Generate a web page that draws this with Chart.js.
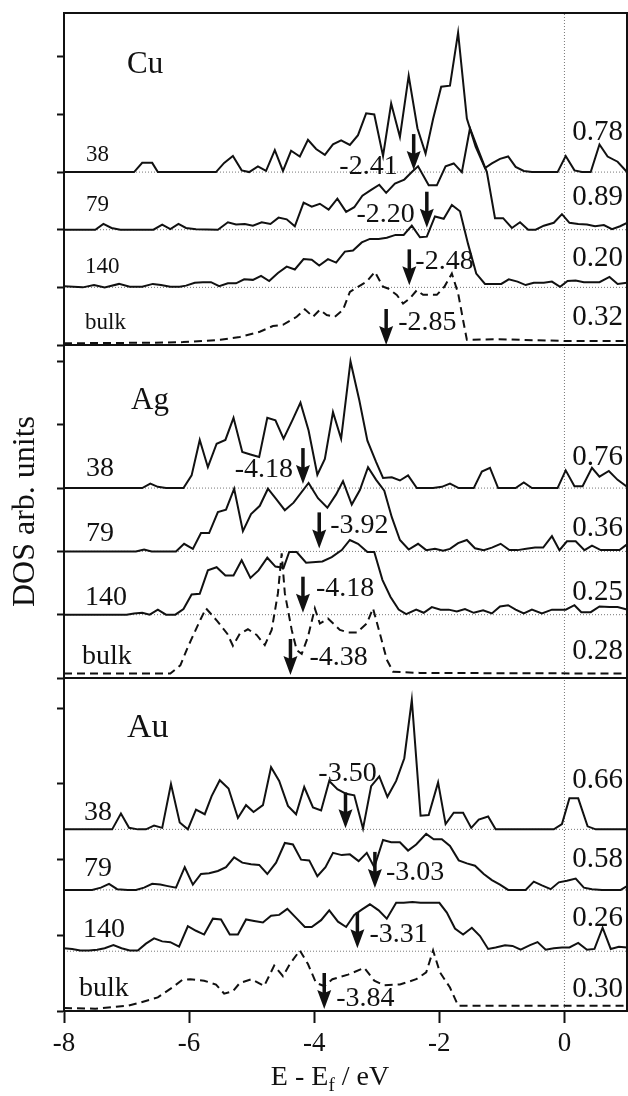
<!DOCTYPE html>
<html>
<head>
<meta charset="utf-8">
<script src="https://cdn.jsdelivr.net/npm/chart.js@4.4.1/dist/chart.umd.min.js"></script>
<style>
  html, body { margin: 0; padding: 0; background: #fff; }
  #wrap { position: relative; width: 628px; height: 1096px; }
  #wrap canvas { position: absolute; left: 0; }
</style>
</head>
<body>
<div id="wrap">
  <canvas id="cu" width="628" height="347" style="top:0px"></canvas>
  <canvas id="ag" width="628" height="337" style="top:343px"></canvas>
  <canvas id="au" width="628" height="420" style="top:676px"></canvas>
</div>
<script>
const FONT = '"Liberation Serif", "Times New Roman", serif';
const INK = "#111";

const sizes = ["38", "79", "140", "bulk"];
const xTicks = [-8, -6, -4, -2, 0];

// ---- Cu : [E, DOS] pairs, DOS measured from each curve's own baseline
const cu38 = [[-8,0],[-6.88,0],[-6.75,0.16],[-6.59,0.16],[-6.5,0],[-5.57,0],[-5.44,0.16],[-5.30,0.28],[-5.16,0.03],[-5.04,0],[-4.90,0.10],[-4.77,0.02],[-4.63,0.38],[-4.50,0.02],[-4.37,0.37],[-4.23,0.27],[-4.10,0.56],[-3.97,0.40],[-3.83,0.30],[-3.70,0.48],[-3.57,0.55],[-3.43,0.47],[-3.30,0.64],[-3.17,1.02],[-3.04,1.00],[-2.90,0.28],[-2.77,1.19],[-2.63,0.61],[-2.49,1.67],[-2.35,0.76],[-2.22,0.32],[-2.10,0.92],[-1.97,1.48],[-1.83,1.50],[-1.70,2.42],[-1.56,0.93],[-1.42,0.44],[-1.27,0.07],[-1.16,0.15],[-1.03,0.23],[-0.90,0.27],[-0.78,0.09],[-0.65,0.02],[-0.52,0],[-0.11,0],[0.02,0.28],[0.16,0.03],[0.28,0],[0.42,0],[0.56,0.48],[0.69,0.27],[0.85,0.18],[1.0,0]];
const cu79 = [[-8,0],[-7.5,0],[-7.37,0.10],[-7.24,0.03],[-7.10,0],[-6.57,0],[-6.43,0.09],[-6.30,0.01],[-6.17,0.10],[-6.05,0.03],[-5.89,0.01],[-5.54,0],[-5.38,0.13],[-5.25,0.09],[-5.11,0.10],[-4.98,0.07],[-4.84,0.13],[-4.70,0.10],[-4.57,0.21],[-4.44,0.18],[-4.31,0.06],[-4.17,0.47],[-4.04,0.40],[-3.91,0.45],[-3.77,0.35],[-3.63,0.54],[-3.49,0.31],[-3.36,0.39],[-3.23,0.59],[-3.09,0.69],[-2.96,0.78],[-2.85,0.64],[-2.71,0.80],[-2.56,0.87],[-2.44,1.00],[-2.34,1.10],[-2.17,0.77],[-2.04,0.77],[-1.90,1.10],[-1.77,1.15],[-1.64,1.00],[-1.51,1.76],[-1.38,1.39],[-1.24,1.00],[-1.11,0.20],[-0.98,0.20],[-0.84,0.03],[-0.71,0.13],[-0.58,0],[-0.46,0],[-0.33,0.07],[-0.17,0.12],[-0.04,0.27],[0.08,0.12],[0.22,0.10],[0.36,0.09],[0.49,0.06],[0.63,0.08],[0.76,0.01],[0.89,0.06],[1.0,0.12]];
const cu140 = [[-8,0.02],[-7.7,0],[-7.52,0.04],[-7.35,0],[-7.12,0.06],[-6.95,0.01],[-6.75,0.01],[-6.58,0.06],[-6.45,0.04],[-6.30,0.01],[-6.15,0.01],[-6.05,0.03],[-5.91,0.08],[-5.78,0.09],[-5.65,0.09],[-5.52,0.02],[-5.38,0.07],[-5.25,0.07],[-5.12,0.14],[-4.98,0.13],[-4.85,0.20],[-4.72,0.11],[-4.58,0.25],[-4.44,0.36],[-4.31,0.31],[-4.17,0.49],[-4.04,0.48],[-3.92,0.38],[-3.78,0.49],[-3.65,0.43],[-3.51,0.62],[-3.38,0.64],[-3.24,0.78],[-3.11,0.84],[-2.97,0.84],[-2.84,0.86],[-2.70,0.91],[-2.57,0.91],[-2.44,1.07],[-2.31,0.87],[-2.20,0.88],[-2.07,1.23],[-1.93,1.19],[-1.80,1.43],[-1.67,1.32],[-1.54,0.75],[-1.41,0.24],[-1.27,0.06],[-1.14,0.06],[-1.01,0.06],[-0.89,0.14],[-0.75,0.10],[-0.62,0.04],[-0.49,0.08],[-0.33,0.08],[-0.20,0.10],[-0.07,0.01],[0.05,0.11],[0.18,0.12],[0.31,0.09],[0.44,0.09],[0.56,0.09],[0.72,0.18],[0.85,0.06],[1.0,0.08]];
const cuBulk = [[-8,0.03],[-6.6,0.04],[-6.1,0.05],[-5.5,0.09],[-5.19,0.14],[-4.87,0.23],[-4.66,0.33],[-4.50,0.35],[-4.28,0.49],[-4.15,0.62],[-4.02,0.49],[-3.91,0.61],[-3.80,0.52],[-3.67,0.49],[-3.54,0.61],[-3.43,0.92],[-3.30,1.01],[-3.16,1.10],[-3.03,1.27],[-2.90,1.01],[-2.82,0.98],[-2.68,0.87],[-2.58,0.72],[-2.47,0.81],[-2.36,0.95],[-2.26,0.87],[-2.04,0.87],[-1.92,1.01],[-1.80,1.24],[-1.70,0.90],[-1.62,0.43],[-1.56,0.09],[-1.05,0.10],[0,0.07],[1.0,0.07]];
const cuArrowE = [-2.41, -2.20, -2.48, -2.85];
const cuRight = [0.78, 0.89, 0.20, 0.32];

// ---- Ag
const ag38 = [[-8,0],[-6.75,0],[-6.62,0.07],[-6.5,0.02],[-6.37,0],[-6.09,0],[-5.96,0.20],[-5.83,0.76],[-5.70,0.33],[-5.56,0.70],[-5.42,0.76],[-5.29,1.11],[-5.15,0.57],[-5.02,0.53],[-4.88,0.49],[-4.75,1.11],[-4.62,1.07],[-4.49,0.78],[-4.35,1.07],[-4.22,1.35],[-4.09,0.91],[-3.95,0.21],[-3.83,0.46],[-3.70,1.20],[-3.57,0.78],[-3.42,2.00],[-3.28,1.39],[-3.15,0.75],[-3.01,0.41],[-2.90,0.16],[-2.76,0.17],[-2.63,0.12],[-2.50,0.20],[-2.36,0],[-2.10,0],[-1.96,0.02],[-1.83,0.07],[-1.69,0],[-1.45,0],[-1.32,0.26],[-1.19,0.32],[-1.06,0],[-0.78,0],[-0.65,0.09],[-0.52,0],[-0.11,0],[0.02,0.28],[0.16,0.03],[0.29,0.03],[0.44,0.32],[0.56,0.18],[0.71,0.27],[0.85,0.13],[1.0,0.02]];
const ag79 = [[-8,0],[-6.85,0],[-6.72,0.03],[-6.6,0],[-6.21,0],[-6.08,0.12],[-5.94,0.04],[-5.81,0.29],[-5.68,0.29],[-5.54,0.62],[-5.41,0.66],[-5.28,0.99],[-5.14,0.32],[-5.01,0.59],[-4.87,0.72],[-4.74,0.99],[-4.61,0.83],[-4.47,0.65],[-4.33,0.77],[-4.09,1.08],[-3.94,0.84],[-3.79,0.69],[-3.65,0.90],[-3.54,1.11],[-3.40,0.74],[-3.27,0.97],[-3.14,1.33],[-3.01,1.13],[-2.88,0.96],[-2.76,0.54],[-2.63,0.18],[-2.49,0.03],[-2.34,0.12],[-2.21,0.02],[-2.07,0.04],[-1.94,0.01],[-1.83,0.04],[-1.70,0.13],[-1.56,0.18],[-1.43,0.05],[-1.29,0.02],[-1.16,0.06],[-1.02,0.12],[-0.88,0.02],[-0.75,0.02],[-0.61,0.04],[-0.47,0.06],[-0.34,0.06],[-0.20,0.24],[-0.08,0.02],[0.04,0.16],[0.18,0.16],[0.32,0.02],[0.44,0.09],[0.58,0.02],[0.75,0.02],[0.88,0.02],[1.0,0.11]];
const ag140 = [[-8,0],[-7.0,0],[-6.88,0.02],[-6.75,0.03],[-6.63,0],[-6.50,0.08],[-6.37,0],[-6.22,0],[-6.09,0.09],[-5.96,0.32],[-5.83,0.33],[-5.70,0.70],[-5.56,0.75],[-5.42,0.62],[-5.29,0.62],[-5.16,0.86],[-5.02,0.58],[-4.89,0.70],[-4.75,0.90],[-4.62,0.76],[-4.49,0.74],[-4.40,0.99],[-4.28,0.99],[-4.13,0.82],[-3.87,0.84],[-3.72,0.91],[-3.56,1.02],[-3.43,1.18],[-3.30,1.12],[-3.15,0.99],[-3.04,0.99],[-2.91,0.55],[-2.78,0.28],[-2.65,0.08],[-2.53,0.01],[-2.37,0.08],[-2.25,0.03],[-2.12,0.12],[-1.98,0.08],[-1.85,0.08],[-1.72,0.05],[-1.59,0.09],[-1.45,0.03],[-1.30,0.07],[-1.16,0.02],[-1.03,0.13],[-0.90,0.15],[-0.78,0.08],[-0.65,0.02],[-0.52,0.08],[-0.36,0.02],[-0.20,0.08],[0.02,0.08],[0.16,0.15],[0.27,0.04],[0.42,0.04],[0.56,0.13],[0.72,0.12],[0.85,0.12],[1.0,0.08]];
const agBulk = [[-8,0.07],[-6.30,0.07],[-6.14,0.20],[-6.02,0.49],[-5.82,0.92],[-5.73,1.10],[-5.55,0.90],[-5.39,0.70],[-5.30,0.51],[-5.19,0.70],[-5.06,0.77],[-4.92,0.68],[-4.79,0.52],[-4.68,0.76],[-4.58,1.34],[-4.52,1.97],[-4.47,1.34],[-4.36,0.76],[-4.28,0.44],[-4.20,0.38],[-4.10,0.65],[-3.99,1.10],[-3.91,0.86],[-3.78,0.94],[-3.59,0.76],[-3.46,0.72],[-3.32,0.72],[-3.16,0.86],[-3.06,1.10],[-2.95,0.70],[-2.84,0.29],[-2.74,0.10],[-2.31,0.08],[1.0,0.07]];
const agArrowE = [-4.18, -3.92, -4.18, -4.38];
const agRight = [0.76, 0.36, 0.25, 0.28];

// ---- Au
const au38 = [[-8,0],[-7.23,0],[-7.09,0.21],[-6.96,0.02],[-6.82,0],[-6.69,0],[-6.56,0.05],[-6.43,0.02],[-6.29,0.60],[-6.15,0.09],[-6.02,0],[-5.89,0.26],[-5.75,0.20],[-5.64,0.44],[-5.51,0.65],[-5.37,0.54],[-5.22,0.15],[-5.09,0.32],[-4.97,0.23],[-4.82,0.32],[-4.69,0.82],[-4.56,0.64],[-4.42,0.31],[-4.29,0.20],[-4.16,0.56],[-4.02,0.29],[-3.89,0.25],[-3.76,0.64],[-3.63,0.53],[-3.49,0.47],[-3.36,0.45],[-3.22,0.01],[-3.09,0.57],[-2.96,0.70],[-2.83,0.43],[-2.69,0.64],[-2.56,0.94],[-2.44,1.71],[-2.30,0.18],[-2.17,0.19],[-2.02,0.62],[-1.90,0.07],[-1.77,0.22],[-1.62,0.22],[-1.49,0.02],[-1.37,0.13],[-1.22,0.17],[-1.10,0],[-0.17,0],[-0.04,0.07],[0.08,0.41],[0.22,0.41],[0.37,0.04],[0.50,0],[1.0,0]];
const au79 = [[-8,0],[-7.55,0],[-7.41,0.03],[-7.28,0.08],[-7.15,0.01],[-6.98,0],[-6.85,0],[-6.72,0.03],[-6.59,0.08],[-6.46,0.07],[-6.34,0.05],[-6.21,0.03],[-6.07,0.30],[-5.94,0.07],[-5.81,0.21],[-5.68,0.22],[-5.54,0.25],[-5.41,0.30],[-5.28,0.43],[-5.15,0.36],[-5.01,0.34],[-4.88,0.33],[-4.75,0.21],[-4.61,0.36],[-4.47,0.62],[-4.34,0.60],[-4.21,0.40],[-4.08,0.39],[-3.95,0.18],[-3.82,0.30],[-3.70,0.49],[-3.56,0.46],[-3.43,0.47],[-3.29,0.38],[-3.16,0.49],[-3.04,0.30],[-2.90,0.66],[-2.77,0.63],[-2.63,0.63],[-2.50,0.52],[-2.37,0.60],[-2.21,0.74],[-2.09,0.67],[-1.96,0.67],[-1.83,0.58],[-1.69,0.39],[-1.56,0.35],[-1.43,0.32],[-1.29,0.21],[-1.16,0.13],[-1.03,0.07],[-0.90,0],[-0.62,0],[-0.49,0.11],[-0.36,0.06],[-0.22,0.01],[-0.09,0.10],[0.04,0.12],[0.18,0.15],[0.31,0.03],[0.44,0.01],[0.60,0],[0.90,0],[1.0,0.05]];
const au140 = [[-8,0.04],[-7.87,0.03],[-7.74,0.01],[-7.60,0.01],[-7.47,0.02],[-7.35,0.04],[-7.21,0.08],[-7.08,0.04],[-6.95,0.01],[-6.82,0.01],[-6.69,0.10],[-6.56,0.17],[-6.43,0.13],[-6.30,0.12],[-6.16,0.06],[-6.02,0.33],[-5.89,0.27],[-5.76,0.22],[-5.62,0.43],[-5.49,0.42],[-5.35,0.22],[-5.22,0.22],[-5.09,0.42],[-4.96,0.40],[-4.82,0.38],[-4.69,0.47],[-4.56,0.48],[-4.43,0.56],[-4.29,0.44],[-4.15,0.32],[-4.04,0.32],[-3.89,0.41],[-3.76,0.54],[-3.62,0.39],[-3.49,0.32],[-3.36,0.48],[-3.24,0.55],[-3.11,0.62],[-2.97,0.54],[-2.84,0.43],[-2.69,0.64],[-2.57,0.64],[-2.43,0.65],[-2.30,0.64],[-2.15,0.64],[-2.00,0.64],[-1.88,0.51],[-1.75,0.30],[-1.62,0.22],[-1.48,0.31],[-1.35,0.20],[-1.22,0.03],[-1.10,0.05],[-0.95,0.08],[-0.83,0.07],[-0.70,0.02],[-0.55,0.08],[-0.43,0.12],[-0.30,0.02],[-0.17,0.04],[-0.04,0.05],[0.08,0.05],[0.22,0.11],[0.36,0.02],[0.48,0.03],[0.61,0.31],[0.74,0.03],[0.87,0.06],[1.0,0.05]];
const auBulk = [[-8,0.04],[-7.5,0.03],[-6.98,0.07],[-6.79,0.11],[-6.50,0.18],[-6.27,0.31],[-6.11,0.41],[-5.98,0.42],[-5.76,0.40],[-5.57,0.35],[-5.44,0.23],[-5.30,0.26],[-5.19,0.37],[-5.00,0.42],[-4.80,0.33],[-4.64,0.60],[-4.50,0.46],[-4.39,0.62],[-4.23,0.80],[-4.10,0.62],[-3.97,0.37],[-3.84,0.33],[-3.71,0.42],[-3.46,0.48],[-3.20,0.57],[-3.04,0.40],[-2.88,0.34],[-2.63,0.35],[-2.37,0.42],[-2.21,0.51],[-2.10,0.80],[-1.99,0.51],[-1.83,0.31],[-1.70,0.07],[1.0,0.07]];
const auArrowE = [-3.50, -3.03, -3.31, -3.84];
const auRight = [0.66, 0.58, 0.26, 0.30];

// ---- panel layout (offsets in panel units / label nudges in px)
const panels = [
  {
    el: "cu", name: "Cu", ymax: 5.76, pad: { top: 13, bottom: 2 },
    curves: [cu38, cu79, cu140, cuBulk], base: [3, 2, 1, 0],
    arrows: cuArrowE, right: cuRight,
    nameFont: 31, namePos: [63, 52],
    sizeFont: 23, sizeX: [22, 22, 21, 21], sizeDy: [-17, -25, -20, -22],
    rightDy: [-40, -32, -29, -28], tipDy: [-2, -2, -2, 0],
    lab: [["left", -16, -5], ["left", -12, -15], ["right", 6, -26], ["right", 12, -22]],
  },
  {
    el: "ag", name: "Ag", ymax: 5.26, pad: { top: 2, bottom: 2 }, yTitle: true,
    curves: [ag38, ag79, ag140, agBulk], base: [3, 2, 1, 0],
    arrows: agArrowE, right: agRight,
    nameFont: 31, namePos: [67, 56],
    sizeFont: 28, sizeX: [22, 22, 21, 18], sizeDy: [-19, -18, -17, -21],
    rightDy: [-31, -23, -22, -27], tipDy: [-4, -3, -2, -3],
    lab: [["left", -10, -18], ["right", 11, -26], ["right", 13, -26], ["right", 19, -20]],
  },
  {
    el: "au", name: "Au", ymax: 4.4, pad: { top: 2, bottom: 0 }, xAxis: true,
    curves: [au38, au79, au140, auBulk], base: [2.40, 1.60, 0.79, 0],
    arrows: auArrowE, right: auRight,
    nameFont: 34, namePos: [63, 50],
    sizeFont: 28, sizeX: [20, 20, 19, 15], sizeDy: [-17, -21, -22, -22],
    rightDy: [-49, -31, -33, -22], tipDy: [-1, -2, -3, -2],
    lab: [["above", 2, -56], ["right", 11, -17], ["right", 12, -17], ["right", 12, -12]],
  },
];

function toXY(pts, base) {
  return pts.map(([e, v]) => ({ x: e, y: v + base }));
}

function arrow(ctx, x, tip) {
  ctx.lineWidth = 3.5;
  ctx.beginPath();
  ctx.moveTo(x, tip - 36);
  ctx.lineTo(x, tip - 14);
  ctx.stroke();
  ctx.beginPath();
  ctx.moveTo(x - 7, tip - 19);
  ctx.lineTo(x, tip - 16);
  ctx.lineTo(x + 7, tip - 19);
  ctx.lineTo(x, tip);
  ctx.closePath();
  ctx.fill();
}

function decor(p) {
  return {
    id: "decor",
    afterDatasetsDraw(chart) {
      const { ctx, chartArea: a, scales: { x, y } } = chart;
      ctx.save();
      ctx.fillStyle = INK;
      ctx.strokeStyle = INK;

      // frame
      ctx.lineWidth = 2;
      ctx.strokeRect(a.left, a.top, a.right - a.left, a.bottom - a.top);

      ctx.textBaseline = "middle";
      ctx.textAlign = "left";
      ctx.font = `${p.nameFont}px ${FONT}`;
      ctx.fillText(p.name, a.left + p.namePos[0], a.top + p.namePos[1]);

      p.curves.forEach((c, i) => {
        const by = y.getPixelForValue(p.base[i]);

        ctx.font = `${p.sizeFont}px ${FONT}`;
        ctx.textAlign = "left";
        ctx.fillText(sizes[i], a.left + p.sizeX[i], by + p.sizeDy[i]);

        ctx.font = `29px ${FONT}`;
        ctx.textAlign = "right";
        ctx.fillText(p.right[i].toFixed(2), a.right - 4, by + p.rightDy[i]);

        const ax = x.getPixelForValue(p.arrows[i]);
        arrow(ctx, ax, by + p.tipDy[i]);

        const [side, dx, dy] = p.lab[i];
        ctx.font = `28px ${FONT}`;
        ctx.textAlign = side === "left" ? "right" : side === "right" ? "left" : "center";
        ctx.fillText(p.arrows[i].toFixed(2), ax + dx, by + dy);
      });

      if (p.xAxis) {
        // x title with subscript
        const cx = a.left + 266, cy = a.bottom + 67;
        const big = `28px ${FONT}`, small = `19px ${FONT}`;
        ctx.font = big;
        const w1 = ctx.measureText("E - E").width;
        const w3 = ctx.measureText(" / eV").width;
        ctx.font = small;
        const w2 = ctx.measureText("f").width;
        let sx = cx - (w1 + w2 + w3) / 2;
        ctx.textAlign = "left";
        ctx.font = big;
        ctx.fillText("E - E", sx, cy);
        ctx.font = small;
        ctx.fillText("f", sx + w1, cy + 8);
        ctx.font = big;
        ctx.fillText(" / eV", sx + w1 + w2, cy);
      }
      ctx.restore();
    },
  };
}

function makePanel(p) {
  const datasets = [];
  p.curves.forEach((c, i) => {
    datasets.push({
      data: toXY(c, p.base[i]),
      borderColor: INK,
      borderWidth: 2,
      borderDash: i === 3 ? [8, 5] : [],
      order: 1,
    });
    if (i < 3) {
      datasets.push({
        data: [{ x: -8, y: p.base[i] }, { x: 1, y: p.base[i] }],
        borderColor: "#777",
        borderWidth: 1,
        borderDash: [1, 2],
        order: 5,
      });
    }
  });
  datasets.push({
    data: [{ x: 0, y: 0 }, { x: 0, y: p.ymax }],
    borderColor: "#777",
    borderWidth: 1,
    borderDash: [1, 2],
    order: 5,
  });

  const tickGrid = { drawOnChartArea: false, drawTicks: true, tickWidth: 2, tickColor: INK };

  return new Chart(document.getElementById(p.el), {
    type: "line",
    data: { datasets },
    options: {
      responsive: false,
      animation: false,
      devicePixelRatio: 1,
      events: [],
      layout: { padding: { left: 0, right: 1, top: p.pad.top, bottom: p.pad.bottom } },
      elements: { point: { radius: 0 }, line: { tension: 0, fill: false } },
      plugins: { legend: { display: false }, tooltip: { enabled: false } },
      scales: {
        x: {
          type: "linear",
          min: -8,
          max: 1,
          display: !!p.xAxis,
          afterBuildTicks: (s) => { s.ticks = xTicks.map((v) => ({ value: v })); },
          afterFit: (s) => { if (p.xAxis) s.height = 85; },
          ticks: { color: INK, font: { family: FONT, size: 27 }, padding: 5 },
          grid: { ...tickGrid, tickLength: 12 },
          border: { display: true, color: INK, width: 2 },
        },
        y: {
          type: "linear",
          min: 0,
          max: p.ymax,
          afterFit: (s) => { s.width = 64; },
          ticks: { display: false, stepSize: 1, includeBounds: false },
          grid: { ...tickGrid, tickLength: 7 },
          border: { display: true, color: INK, width: 2 },
          title: {
            display: !!p.yTitle,
            text: "DOS arb. units",
            color: INK,
            font: { family: FONT, size: 32 },
            padding: { top: 6, bottom: 0 },
          },
        },
      },
    },
    plugins: [decor(p)],
  });
}

panels.forEach(makePanel);
</script>
</body>
</html>
